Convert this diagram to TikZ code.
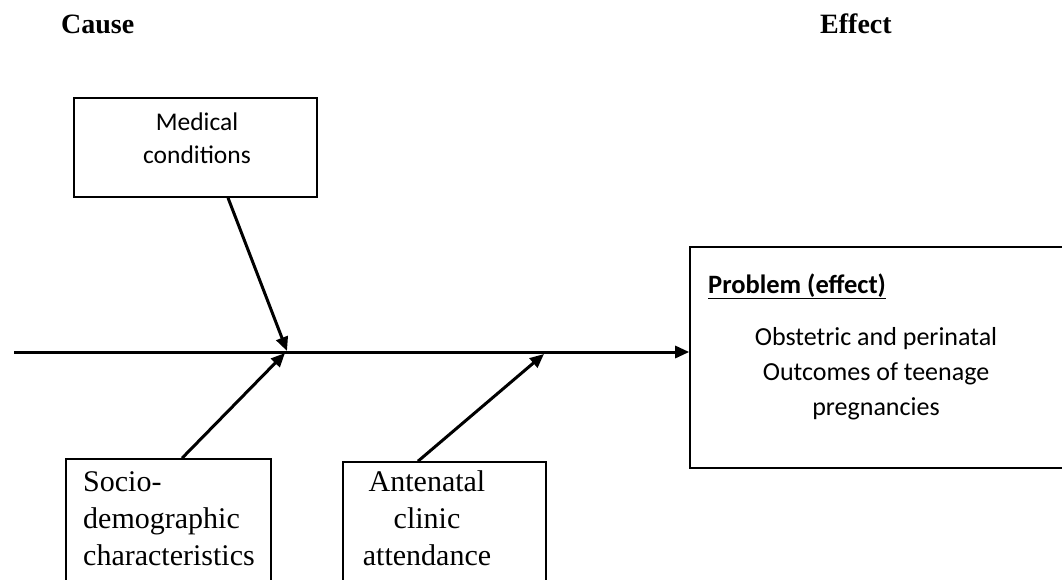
\documentclass[tikz,border=0pt]{standalone}
\usepackage{fontspec}
\setmainfont{Liberation Serif}
\newfontfamily\calfont{Carlito}
\usepackage{xcolor}
\usepackage{tikz}
\usetikzlibrary{arrows.meta,positioning,calc}

\begin{document}
\begin{tikzpicture}[
  x=1pt,y=-1pt,
  every node/.style={inner sep=0pt},
  box/.style={draw,line width=1.6pt},
  arr/.style={-{Triangle[length=14pt,width=12pt]},line width=3pt},
  head/.style={font=\fontsize{28}{32}\selectfont\bfseries},
  serif/.style={font=\fontsize{30}{37}\selectfont},
  cal/.style={font=\fontsize{25.5}{33}\selectfont\calfont}
]
\useasboundingbox (0,0) rectangle (1062,579);
\clip (0,0) rectangle (1062,579);
\node[head,anchor=base west] (cause) at (61,33) {Cause};
\node[head,anchor=base west] (effect) at (820,33) {Effect};
\node[box,minimum width=243pt,minimum height=99pt] (med) at (195.5,147.5) {};
\node[cal,align=center,anchor=base] (medtxt) at (197,163) {Medical\\conditions};
\node[box,minimum width=205pt,minimum height=161pt] (socio) at (168.5,539.5) {};
\node[serif,align=left,anchor=base west] (sociotxt) at (83,565) {Socio-\\demographic\\characteristics};
\node[box,minimum width=203pt,minimum height=158pt] (ante) at (444.5,541) {};
\node[serif,align=center,anchor=base] (antetxt) at (427,565) {Antenatal\\clinic\\attendance};
\node[box,minimum width=385pt,minimum height=221pt] (prob) at (882.5,357.5) {};
\node[cal,font=\fontsize{26.5}{33}\selectfont\calfont\bfseries,anchor=base west] (probtit) at (708,293) {\underline{Problem (effect)}};
\node[cal,font=\fontsize{26}{35}\selectfont\calfont,align=center,anchor=base] (probtxt) at (876,415) {Obstetric and perinatal\\Outcomes of teenage\\pregnancies};
\coordinate (tail) at (14,352);
\coordinate (j1) at (287,351);
\coordinate (j2) at (285,353);
\coordinate (j3) at (544,354);
\draw[arr] (tail) -- (tail -| prob.west);
\draw[arr] ([xshift=32.5pt]med.south) -- (j1);
\draw[arr] ([xshift=13.5pt]socio.north) -- (j2);
\draw[arr] ([xshift=-26.5pt]ante.north) -- (j3);
\end{tikzpicture}
\end{document}
